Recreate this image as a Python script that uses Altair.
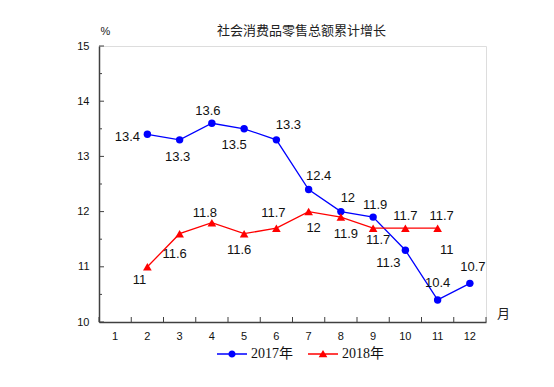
import altair as alt
import pandas as pd

# ---------------- data ----------------
months_all = list(range(1, 13))
series_names = ["2017年", "2018年"]
months_2017 = [2, 3, 4, 5, 6, 7, 8, 9, 10, 11, 12]
values_2017 = [13.4, 13.3, 13.6, 13.5, 13.3, 12.4, 12.0, 11.9, 11.3, 10.4, 10.7]
months_2018 = [2, 3, 4, 5, 6, 7, 8, 9, 10, 11]
values_2018 = [11.0, 11.6, 11.8, 11.6, 11.7, 12.0, 11.9, 11.7, 11.7, 11.7]
y_major_ticks = [10, 11, 12, 13, 14, 15]
y_minor_ticks = [10.5, 11.5, 12.5, 13.5, 14.5]
extra_label_text = ["11"]
extra_label_month = [11]
extra_label_value = [11.7]

# label placement (pixel offsets from each point)
dx_2017 = [-20, -2, -4, -10, 12, 10, 7, 2, -17, 0, 3]
dy_2017 = [3, 17, -12, 16, -15, -14, -14, -12, 13, -17, -16]
dx_2018 = [-8, -5, -7, -5, -3, 5, 5, 5, 0, 4]
dy_2018 = [13, 20, -10, 16, -15, 16, 17, 12, -12, -12]
dx_extra = [9]
dy_extra = [22]

colors = ["#0000FF", "#FF0000"]
axis_color = "#404040"

rows = []
for m, v, dx, dy in zip(months_2017, values_2017, dx_2017, dy_2017):
    rows.append({"month": m, "value": v, "series": series_names[0], "label": f"{v:g}", "dx": dx, "dy": dy})
for m, v, dx, dy in zip(months_2018, values_2018, dx_2018, dy_2018):
    rows.append({"month": m, "value": v, "series": series_names[1], "label": f"{v:g}", "dx": dx, "dy": dy})
df = pd.DataFrame(rows)

extra = pd.DataFrame({"month": extra_label_month, "value": extra_label_value,
                      "label": extra_label_text, "dx": dx_extra, "dy": dy_extra})
minor = pd.DataFrame({"t": y_minor_ticks})
major = pd.DataFrame({"t": y_major_ticks})
mdf = pd.DataFrame({"month": months_all})

x_scale = alt.Scale(type="band", domain=months_all, paddingInner=0, paddingOuter=0)
y_scale = alt.Scale(domain=[10, 15], nice=False, zero=False)

x_enc = alt.X("month:O", scale=x_scale,
              axis=alt.Axis(title="月", titleAngle=0, titleX=404, titleY=-9,
                            titleFont="Noto Sans CJK SC", titleFontSize=13,
                            titleFontWeight="normal", titleColor="#222222",
                            titleAlign="center", titleBaseline="middle",
                            ticks=False, labelAngle=0, labelPadding=8,
                            labelFont="Liberation Sans", labelFontSize=11,
                            labelColor="#111111",
                            domainColor=axis_color, domainWidth=1.5, grid=False))
y_enc = alt.Y("value:Q", scale=y_scale,
              axis=alt.Axis(title="%", titleAngle=0, titleX=6, titleY=-15,
                            titleFont="Liberation Sans", titleFontSize=11,
                            titleFontWeight="normal", titleColor="#222222",
                            titleAlign="center", titleBaseline="middle",
                            values=y_major_ticks, ticks=False,
                            labelPadding=10, labelFont="Liberation Sans",
                            labelFontSize=11, labelColor="#111111",
                            domainColor=axis_color, domainWidth=1.5, grid=False))

base = alt.Chart(df)
d17 = base.transform_filter(alt.datum.series == series_names[0])
d18 = base.transform_filter(alt.datum.series == series_names[1])

line17 = d17.mark_line(strokeWidth=1.3, color=colors[0]).encode(x=x_enc, y=y_enc)
line18 = d18.mark_line(strokeWidth=1.3, color=colors[1]).encode(x="month:O", y="value:Q")

pts17 = d17.mark_point(shape="circle", filled=True, size=55, color=colors[0], opacity=1
                       ).encode(x="month:O", y="value:Q")
pts18 = d18.mark_point(shape="triangle-up", filled=True, size=75, color=colors[1], opacity=1
                       ).encode(x="month:O", y="value:Q")

labels = base.mark_text(
    font="Liberation Sans", fontSize=13, color="#111111", align="center", baseline="middle",
    dx={"expr": "datum.dx"}, dy={"expr": "datum.dy"}
).encode(x="month:O", y="value:Q", text="label:N")

extra_labels = alt.Chart(extra).mark_text(
    font="Liberation Sans", fontSize=13, color="#111111", align="center", baseline="middle",
    dx={"expr": "datum.dx"}, dy={"expr": "datum.dy"}
).encode(x="month:O", y="value:Q", text="label:N")

# inward ticks
minor_ticks = alt.Chart(minor).mark_rule(color=axis_color, strokeWidth=1).encode(
    y="t:Q", x=alt.value(0), x2=alt.value(3)
)
major_ticks = alt.Chart(major).mark_rule(color=axis_color, strokeWidth=1).encode(
    y="t:Q", x=alt.value(0), x2=alt.value(5)
)
x_ticks = alt.Chart(mdf).mark_rule(color=axis_color, strokeWidth=1).encode(
    x=alt.X("month:O", bandPosition=0), y=alt.value(276), y2=alt.value(271)
)
x_tick_end = alt.Chart(mdf).transform_filter(alt.datum.month == months_all[-1]).mark_rule(
    color=axis_color, strokeWidth=1).encode(
    x=alt.X("month:O", bandPosition=1), y=alt.value(276), y2=alt.value(271)
)

# legend symbols: thin bar (line) + marker, all filled, same winding
bar = "M-1,-0.045L1,-0.045L1,0.045L-1,0.045Z"
circle_path = bar + "M-0.24,0A0.24,0.24 0 1,1 0.24,0A0.24,0.24 0 1,1 -0.24,0Z"
tri_path = bar + "M0,-0.27L0.29,0.22L-0.29,0.22Z"

legend_layer = base.mark_point(filled=True, opacity=1).encode(
    x="month:O", y="value:Q",
    color=alt.Color("series:N", scale=alt.Scale(domain=series_names, range=colors),
                    legend=alt.Legend(title=None, orient="none", direction="horizontal",
                                      legendX=118, legendY=293,
                                      symbolSize=900, symbolStrokeWidth=0,
                                      labelFont="Liberation Serif, Noto Sans CJK SC",
                                      labelFontSize=14, labelColor="#111111",
                                      labelOffset=4, columnPadding=15)),
    shape=alt.Shape("series:N", scale=alt.Scale(domain=series_names, range=[circle_path, tri_path])),
    size=alt.value(0),
)

chart = alt.layer(line17, line18, pts17, pts18, labels, extra_labels, minor_ticks, major_ticks,
                  x_ticks, x_tick_end, legend_layer).properties(
    width=387, height=276,
    title=alt.TitleParams("社会消费品零售总额累计增长", font="Noto Sans CJK SC", fontSize=13,
                          fontWeight="normal", color="#222222", anchor="middle", dx=9,
                          offset=4, dy=17),
    autosize=alt.AutoSizeParams(type="none"),
    padding={"left": 91, "top": 38, "right": 60, "bottom": 57},
).configure_view(strokeWidth=0).configure(background="white")

chart.save("out.html", embed_options={"renderer": "svg", "actions": False})
